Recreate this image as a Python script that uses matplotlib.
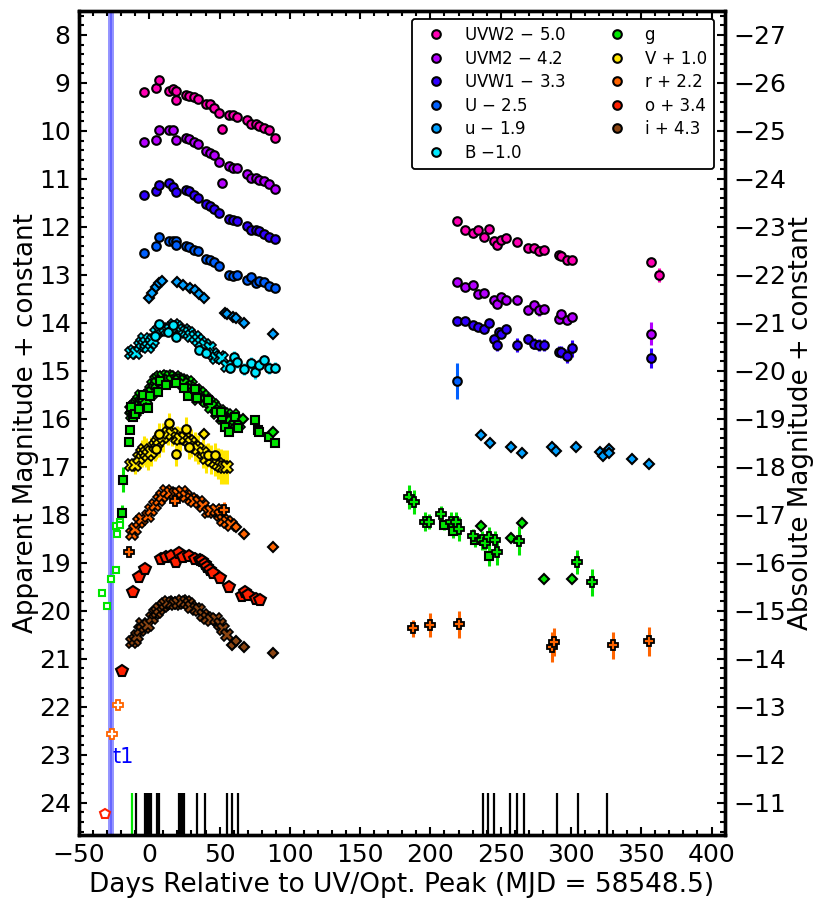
import matplotlib
matplotlib.use("Agg")
import matplotlib.pyplot as plt
from matplotlib.ticker import MultipleLocator
from matplotlib.lines import Line2D

plt.rcParams['font.family'] = 'DejaVu Sans'

# ---------- data ----------
uvw2_d = [-4,4.6,7.2,13.8,16.9,19.3,19.3,25.9,28.3,31.6,34.5,40.4,43,46.3,49.4,51.6,56.8,59.6,62.5,69.4,72.2,75.8,78.1,81.5,85.2,89.3,
          218.9,224.8,230.5,233.6,238.1,241.7,245.5,247.6,250.4,253.5,261.4,269.2,273.5,277.5,281,291.2,293.1,297.2,301,357.2,362.4]
uvw2_m = [9.19,9.11,8.94,9.16,9.12,9.16,9.36,9.25,9.27,9.30,9.33,9.44,9.44,9.52,9.62,9.95,9.67,9.67,9.70,9.78,9.86,9.85,9.89,9.94,9.99,10.14,
          11.87,12.06,12.12,12.07,12.21,12.04,12.29,12.38,12.27,12.24,12.31,12.43,12.44,12.51,12.49,12.58,12.61,12.68,12.68,12.74,13.0]
uvw2_e = [0.03]*45 + [0.05,0.15]

uvm2_d = [-4,4.6,7.2,13.8,16.9,19.3,25.9,28.3,31.6,34.5,40.4,43,46.3,49.4,51.6,56.8,59.6,62.5,69.4,72.2,75.8,78.1,81.5,85.2,89.3,
          218.9,224.8,230.5,233.6,238.1,245.5,247.6,250.4,253.5,261.4,269.2,273.5,277.5,281,291.2,293.1,297.2,301,357.2]
uvm2_m = [10.23,10.19,9.99,9.99,9.99,10.19,10.14,10.17,10.24,10.28,10.42,10.45,10.51,10.65,11.09,10.74,10.78,10.78,10.90,10.97,10.98,11.02,11.05,11.11,11.21,
          13.14,13.25,13.20,13.40,13.37,13.53,13.61,13.46,13.53,13.53,13.72,13.62,13.73,13.71,13.92,13.81,13.94,13.88,14.23]
uvm2_e = [0.03]*25 + [0.04]*12 + [0.12,0.05,0.05,0.05,0.05,0.08,0.24]

uvw1_d = [-4,4.6,7.2,13.8,16.9,19.3,25.9,28.3,31.6,34.5,40.4,43,46.3,49.4,56.8,59.6,62.5,69.4,72.2,75.8,78.1,81.5,85.2,89.3,
          218.9,224.8,230.5,233.6,238.1,241.7,245.5,247.6,249,250.4,253.5,261.4,269.2,273.5,277.5,281,291.2,293.1,297.2,301,357.2]
uvw1_m = [11.34,11.25,11.12,11.09,11.16,11.28,11.24,11.26,11.33,11.39,11.53,11.56,11.63,11.71,11.83,11.86,11.87,11.99,12.06,12.06,12.08,12.14,12.21,12.26,
          13.96,13.95,14.05,14.08,14.12,14.0,14.33,14.46,14.18,14.24,14.13,14.46,14.33,14.43,14.46,14.46,14.6,14.61,14.69,14.53,14.73]
uvw1_e = [0.03]*24 + [0.04]*6 + [0.08,0.12,0.08,0.05,0.05,0.14,0.1,0.12,0.12,0.12,0.12,0.12,0.15,0.18,0.2]

u_up_d = [-4,4.6,7.2,13.8,16.9,19.3,19.3,25.9,28.3,31.6,34.5,40.4,43,46.3,49.4,56.8,59.6,62.5,69.4,72.2,75.8,78.1,81.5,85.2,89.3,218.9]
u_up_m = [12.55,12.39,12.20,12.29,12.29,12.30,12.38,12.40,12.42,12.49,12.50,12.67,12.68,12.73,12.82,13.0,13.02,13.0,13.11,13.05,13.17,13.12,13.14,13.22,13.27,15.21]
u_up_e = [0.03]*25 + [0.38]

u_lo_d = [-0.2,2.2,4.6,7,9.3,19.8,24,29.3,32.4,35.4,39,53.7,55,59.6,62,67.2,88.1,
          236.2,242.4,257.1,265.2,286.7,289.1,303.8,320.7,322.8,327.1,327.1,343.7,355.8]
u_lo_m = [13.48,13.38,13.25,13.17,13.12,13.14,13.2,13.27,13.32,13.40,13.47,13.8,13.81,13.87,13.9,14.0,14.23,
          16.34,16.51,16.58,16.71,16.59,16.67,16.59,16.68,16.77,16.62,16.71,16.84,16.94]

b_x_d = [-12.7,-11,-9.2,-6.8,-5.5,-4,-2.5,-0.9,1,2.7,5.1,7,9,11,12.8,14.6,17.4,19.8,22.9,24.5,26.4,28,30,32.5,34.7,37,39.5,43,45.5,47.8,50,52,55.4]
b_x_m = [14.63,14.58,14.63,14.49,14.42,14.34,14.42,14.51,14.42,14.35,14.22,14.15,14.13,14.11,14.14,14.15,14.04,14.08,14.16,14.15,14.18,14.22,14.28,14.3,14.35,14.42,14.46,14.53,14.65,14.74,14.72,14.74,14.9]
b_x_e = [0.08]*33
b_c_d = [3.9,7,13.4,16.9,19.3,35.4,40.7,57.3,60.1,62.5,67.2,72.4,75.5,78.1,81.7,85.2,89.5]
b_c_m = [14.28,14.03,14.18,14.04,14.3,14.56,14.63,14.94,14.72,14.81,14.96,14.83,15.03,14.87,14.78,14.94,14.93]
b_c_e = [0.05]*7 + [0.1,0.14,0.12,0.12,0.12,0.14,0.12,0.12,0.12,0.12]

g_x_d = [-12.7,-11.5,-10.3,-9,-8,-7,-5.6,-3.2,-1,1.5,3,4.6,6,7.4,10,12.7,15,18.1,20.5,22.9,25,27.6,30,33.5,36,38.3,41,43,45,46.6,50,53,57.3,59.6,
         -12,-10,-7.5,-4.5,-2,2,5.5,8.5,14,16.5,21.5,24,29,32,35,40,44,48,52,55,61,64]
g_x_m = [15.81,15.76,15.71,15.68,15.64,15.6,15.53,15.67,15.5,15.4,15.3,15.19,15.17,15.13,15.13,15.1,15.12,15.13,15.16,15.19,15.22,15.24,15.3,15.4,15.46,15.53,15.6,15.67,15.72,15.78,15.84,15.9,16.09,15.91,
         15.92,15.85,15.75,15.65,15.6,15.45,15.28,15.2,15.2,15.22,15.22,15.28,15.35,15.46,15.58,15.62,15.76,15.88,15.98,16.05,16.0,16.1]
g_s_d = [-13.7,-14.4,-18.9,-19.6,-13.2,-11.5,-9.9,-7.3,-0.9,-4.4,0.3,6.5,7.9,12.2,18.8,24.5,27.6,32.4,34.2,41.8,47.8,52,51.3,53.9,56.5,61.3,63.2,75.3,77.4,78.1,85.2,89.3,
         209.9,216.3,231.4,241.6]
g_s_m = [16.23,16.49,17.27,17.95,15.76,15.95,15.9,15.8,15.78,15.5,15.52,15.43,15.22,15.29,15.26,15.35,15.52,15.38,15.57,15.6,15.85,15.97,15.85,16.17,16.28,15.95,16.18,16.03,16.24,16.28,16.37,16.5,
         18.21,18.34,18.52,18.85]
g_s_e = [0.05,0.05,0.26,0.16] + [0.04]*28 + [0.1,0.15,0.15,0.22]
g_d_d = [67,88.3,236.2,242.4,257,265.1,281,301]
g_d_m = [16.0,16.28,18.24,18.48,18.48,18.16,19.33,19.33]
g_p_d = [184.5,188.3,196.1,199.2,207.3,214.4,217.9,220.5,230,236.4,238.8,241.6,245.9,247.6,263.2,304,314.9]
g_p_m = [17.63,17.74,18.14,18.14,17.99,18.14,18.15,18.29,18.44,18.53,18.59,18.46,18.53,18.78,18.54,18.98,19.4]
g_p_e = [0.25,0.25,0.2,0.15,0.18,0.2,0.22,0.25,0.15,0.2,0.15,0.2,0.2,0.27,0.3,0.25,0.28]
g_o_d = [-20.5,-22.7,-23.4,-21,-23.6,-27,-33.4,-30]
g_o_m = [18.15,18.4,18.24,18.2,19.15,19.34,19.63,19.9]

v_x_d = [-12.7,-9.9,-7.3,-5.5,-4,-2.5,-0.9,1.5,3.9,5.5,7,10,13.6,16,19.8,22,25.2,28,30,32.5,34.7,38,40.7,44,47,49,51.3,53.5,55.4]
v_x_m = [16.96,16.96,16.82,16.72,16.65,16.7,16.76,16.68,16.57,16.5,16.44,16.38,16.3,16.32,16.4,16.42,16.4,16.45,16.5,16.58,16.63,16.72,16.82,16.85,16.89,16.93,16.99,17.0,17.0]
v_x_e = [0.12,0.18,0.25,0.28,0.3,0.3,0.3,0.3,0.3,0.3,0.36,0.3,0.25,0.25,0.25,0.25,0.25,0.25,0.3,0.3,0.3,0.3,0.3,0.3,0.3,0.33,0.36,0.36,0.36]
v_c_d = [13.8,7,4.6,19.3,25.9,28.3,41.8,46.6]
v_c_m = [16.08,16.32,16.63,16.73,16.21,16.59,16.75,16.76]
v_c_e = [0.2,0.2,0.2,0.25,0.25,0.25,0.25,0.25]
v_d_d = [39.2]
v_d_m = [16.32]

r_x_d = [-12,-10,-7.3,-5,-0.9,1.5,4,6.7,9,12.2,15,18,20.5,23,26,30,32,35.2,38,41.8,44,47.3,50,52.5,55.4,58]
r_x_m = [18.39,18.3,18.15,18.08,18.03,17.9,17.8,17.68,17.6,17.51,17.55,17.56,17.56,17.52,17.6,17.67,17.7,17.74,17.82,17.93,17.91,17.89,18.0,18.1,18.15,18.2]
r_p_d = [-14.4,18.4,53,187.3,199.4,220.3,286.2,287.9,329.9,355.7]
r_p_m = [18.77,17.72,17.89,20.36,20.3,20.28,20.75,20.65,20.72,20.63]
r_p_e = [0.1,0.1,0.15,0.18,0.25,0.28,0.32,0.3,0.28,0.3]
r_d_d = [62,67.2,88.1]
r_d_m = [18.25,18.39,18.66]
r_o_d = [-22.2,-26.5]
r_o_m = [21.96,22.57]

o_d = [-19.4,-11.3,-7.5,-3.2,8.2,12.2,15.7,18.8,21,24,28.1,32.4,36.4,37.5,39.5,41,43,45.4,50.1,56.5,66,67.9,70.3,76.2,78.6]
o_m = [21.26,19.6,19.29,19.13,18.92,18.88,18.85,18.99,18.79,18.88,18.85,18.92,18.94,18.97,19.02,19.08,19.15,19.22,19.31,19.51,19.68,19.6,19.67,19.76,19.78]
o_o_d = [-31.2]
o_o_m = [24.24]

i_x_d = [-12,-10,-8.4,-6.8,-4.9,-3,-0.9,2,3.9,5.5,7,10,11.5,13.4,16,18,20.5,23,26.4,28,30,33,35.2,38,41.1,44,47.3,50,52.5,55.4]
i_x_m = [20.65,20.6,20.53,20.4,20.27,20.33,20.3,20.15,20.05,20.03,19.97,19.9,19.85,19.81,19.83,19.85,19.83,19.8,19.81,19.86,19.92,19.97,19.98,20.08,20.15,20.18,20.17,20.28,20.38,20.5]
i_d_d = [58.9,62,67.2,88.1]
i_d_m = [20.72,20.62,20.76,20.87]

spec_black = [-9.6,-3,-1.8,-0.8,0.3,1.5,5.5,6.7,21.2,22.4,23.6,24.8,34.3,39.5,55.4,59.2,63.4,
              237.4,241,245.2,256.6,261.6,266.6,290,305,325.6]
spec_green = [-12.5]
t1_day = -27

legend_left = ['UVW2 $-$ 5.0','UVM2 $-$ 4.2','UVW1 $-$ 3.3','U $-$ 2.5','u $-$ 1.9','B $-$1.0']
legend_right = ['g','V + 1.0','r + 2.2','o + 3.4','i + 4.3']

C_W2, C_M2, C_W1, C_U, C_u = '#ff00b4', '#b400ff', '#3000ff', '#0060ff', '#00a0ff'
C_B, C_g, C_V, C_r, C_o, C_i = '#00e8ff', '#00e600', '#ffe600', '#ff6400', '#ff2000', '#8b4513'

# ---------- figure ----------
W, H = 823, 908
fig = plt.figure(figsize=(W/100, H/100), dpi=100)
ax = fig.add_axes([79/W, 1-835/H, 646/W, 824/H])
ax.set_xlim(-50, 409.6)
ax.set_ylim(24.67, 7.5)

def pts(x, y, c, m='o', e=None, ms=6.2, mew=1.5, z=3, mec='k', mfc=None):
    ax.errorbar(x, y, yerr=e, fmt=m, color=c, ecolor=c, elinewidth=2.2, capsize=0,
                mfc=c if mfc is None else mfc, mec=mec, mew=mew, ms=ms, zorder=z)

ax.axvspan(t1_day-2.1, t1_day+2.1, color='#5050ff', alpha=0.6, lw=0, zorder=1)
ax.axvline(t1_day, color='#2020ff', alpha=0.4, lw=1.5, zorder=1)
ax.text(-26, 23.05, 't1', color='b', fontsize=15, va='center', ha='left')

pts(uvw2_d, uvw2_m, C_W2, e=uvw2_e)
pts(uvm2_d, uvm2_m, C_M2, e=uvm2_e)
pts(uvw1_d, uvw1_m, C_W1, e=uvw1_e)
pts(u_up_d, u_up_m, C_U, e=u_up_e)
pts(u_lo_d, u_lo_m, C_u, m='D', ms=5.6)

pts(b_x_d, b_x_m, C_B, m='X', e=b_x_e, ms=9, mew=1.2)
pts(b_c_d, b_c_m, C_B, e=b_c_e)

pts(g_x_d, g_x_m, C_g, m='X', ms=9, mew=1.2)
pts(g_s_d, g_s_m, C_g, m='s', e=g_s_e, ms=6)
pts(g_d_d, g_d_m, C_g, m='D', ms=5.6)
pts(g_p_d, g_p_m, C_g, m='P', e=g_p_e, ms=7.8, mew=1.3)
pts(g_o_d, g_o_m, C_g, m='s', ms=4.8, mec=C_g, mfc='white')

pts(v_x_d, v_x_m, C_V, m='X', e=v_x_e, ms=9, mew=1.2)
pts(v_c_d, v_c_m, C_V, e=v_c_e)
pts(v_d_d, v_d_m, C_V, m='D', ms=5.6)

pts(r_x_d, r_x_m, C_r, m='X', ms=9, mew=1.2)
pts(r_p_d, r_p_m, C_r, m='P', e=r_p_e, ms=7.8, mew=1.3)
pts(r_d_d, r_d_m, C_r, m='D', ms=5.6)
pts(r_o_d, r_o_m, C_r, m='P', ms=7, mew=1.3, mec=C_r, mfc='white')

pts(o_d, o_m, C_o, m='p', ms=8.5)
pts(o_o_d, o_o_m, C_o, m='p', ms=7.5, mec=C_o, mfc='white')

pts(i_x_d, i_x_m, C_i, m='X', ms=9, mew=1.2)
pts(i_d_d, i_d_m, C_i, m='D', ms=5.6)

ax.vlines(spec_black, 23.79, 24.67, color='k', lw=1.6, zorder=2)
ax.vlines(spec_green, 23.79, 24.67, color='#00e600', lw=1.6, zorder=2)

# axes styling
ax.xaxis.set_major_locator(MultipleLocator(50))
ax.xaxis.set_minor_locator(MultipleLocator(10))
ax.yaxis.set_major_locator(MultipleLocator(1))
ax.yaxis.set_minor_locator(MultipleLocator(0.2))
ax.tick_params(which='major', direction='in', length=6, width=1.5, labelsize=18,
               top=True, bottom=True, left=True, right=False, pad=6)
ax.tick_params(which='minor', direction='in', length=3.5, width=1.5,
               top=True, bottom=True, left=True, right=False)
ax.set_xlabel('Days Relative to UV/Opt. Peak (MJD = 58548.5)', fontsize=19, labelpad=3)
ax.set_ylabel('Apparent Magnitude + constant', fontsize=18.8, labelpad=0)

ax2 = ax.twinx()
ax2.set_ylim(24.67-35, 7.5-35)
ax2.yaxis.set_major_locator(MultipleLocator(1))
ax2.yaxis.set_minor_locator(MultipleLocator(0.2))
ax2.tick_params(which='major', direction='in', length=6, width=1.5, labelsize=18, pad=6)
ax2.tick_params(which='minor', direction='in', length=3.5, width=1.5)
ax2.set_ylabel('Absolute Magnitude + constant', fontsize=18.8, labelpad=1)

for a in (ax, ax2):
    for s in a.spines.values():
        s.set_linewidth(2.4)

# legend
colors = [C_W2, C_M2, C_W1, C_U, C_u, C_B, C_g, C_V, C_r, C_o, C_i]
handles = [Line2D([], [], ls='', marker='o', ms=6.2, mfc=c, mec='k', mew=1.5) for c in colors]
handles.insert(11, Line2D([], [], ls='', marker=''))
labels = legend_left + legend_right + ['']
leg = ax2.legend(handles, labels, ncol=2, fontsize=12, loc='upper left',
                 bbox_to_anchor=((412-79)/646, 1-(19-11)/824), borderaxespad=0,
                 labelspacing=0.33, columnspacing=2.05, handletextpad=0.66,
                 fancybox=True, framealpha=1, edgecolor='k', borderpad=0.44)
leg.get_frame().set_linewidth(1.3)

fig.savefig('out.png', dpi=100)
